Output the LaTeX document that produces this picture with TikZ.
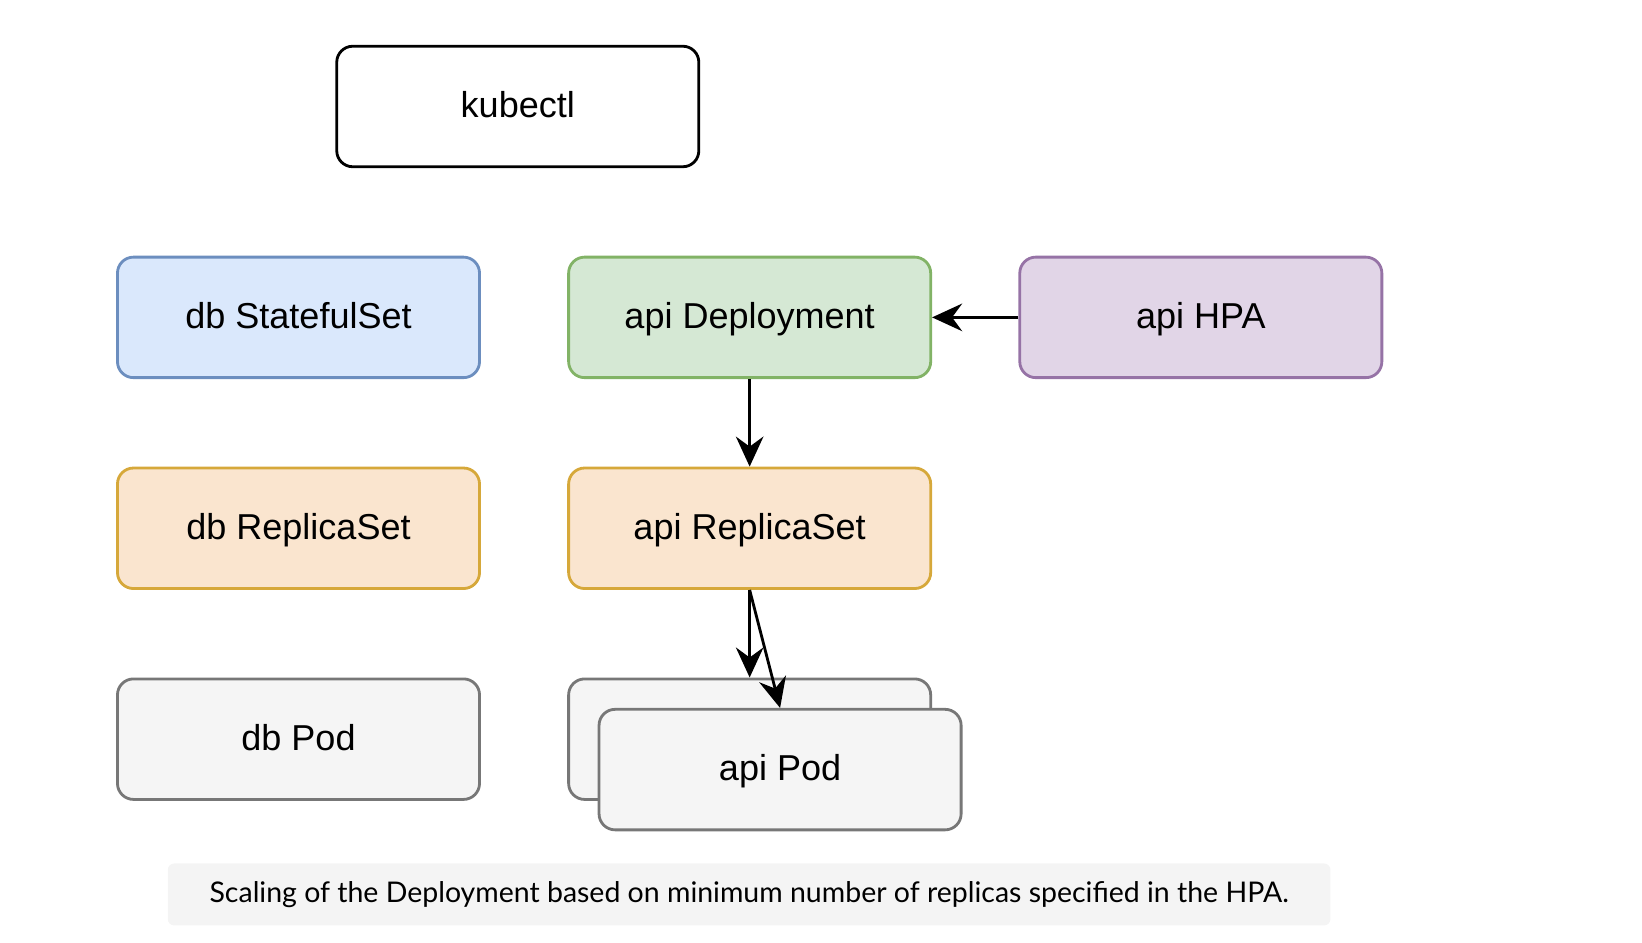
\documentclass[tikz,border=0pt]{standalone}
\usepackage{fontspec}
\setmainfont{Liberation Sans}
\newfontfamily\captionfont{Lato}
\usepackage{tikz}
\usetikzlibrary{arrows.meta}

\definecolor{dbblue}{HTML}{DAE8FC}
\definecolor{dbbluedraw}{HTML}{6C8EBF}
\definecolor{depgreen}{HTML}{D5E8D4}
\definecolor{depgreendraw}{HTML}{82B366}
\definecolor{hpapurple}{HTML}{E1D5E7}
\definecolor{hpapurpledraw}{HTML}{9673A6}
\definecolor{rsorange}{HTML}{FAE5CF}
\definecolor{rsorangedraw}{HTML}{D6A83A}
\definecolor{podgray}{HTML}{F5F5F5}
\definecolor{podgraydraw}{HTML}{777777}
\definecolor{capgray}{HTML}{F4F4F4}

\tikzset{
  box/.style={draw, rounded corners=0.32cm, line width=1.6pt, minimum width=7.24cm,
    minimum height=2.41cm, inner sep=0pt, text height=0.52cm, text depth=0.08cm,
    font=\fontsize{20.5}{24}\selectfont},
  link/.style={-{Stealth[length=0.6cm,width=0.55cm,inset=0.2cm]}, line width=1.6pt}
}

\begin{document}
\begin{tikzpicture}[x=0.02098cm, y=-0.02098cm]
\useasboundingbox (0,0) rectangle (1565,898);
\node[box, draw=black, fill=white] (kubectl) at (493.5,101.5) {kubectl};
\node[box, draw=dbbluedraw, fill=dbblue] (dbset) at (284.5,302.5) {db StatefulSet};
\node[box, draw=depgreendraw, fill=depgreen] (apidep) at (714.5,302.5) {api Deployment};
\node[box, draw=hpapurpledraw, fill=hpapurple] (apihpa) at (1144.5,302.5) {api HPA};
\node[box, draw=rsorangedraw, fill=rsorange] (dbrs) at (284.5,503.5) {db ReplicaSet};
\node[box, draw=rsorangedraw, fill=rsorange] (apirs) at (714.5,503.5) {api ReplicaSet};
\node[box, draw=podgraydraw, fill=podgray] (dbpod) at (284.5,704.5) {db Pod};
\node[box, draw=podgraydraw, fill=podgray] (apipodback) at (714.5,704.5) {};
\node[box, draw=podgraydraw, fill=podgray] (apipod) at (743.5,733.5) {api Pod};
% arrows
\draw[link] (apihpa.west) -- (apidep.east);
\draw[link] (apidep.south) -- (apirs.north);
\draw[link] (apirs.south) -- (apipodback.north);
\draw[link] (apirs.south) -- (apipod.north);
% caption
\node[fill=capgray, rounded corners=0.13cm, minimum width=23.25cm, minimum height=1.24cm,
  inner sep=0pt, font=\captionfont\fontsize{16.2}{19}\selectfont] (caption) at (714,852.5)
  {Scaling of the Deployment based on minimum number of replicas specified in the HPA.};
\end{tikzpicture}
\end{document}
